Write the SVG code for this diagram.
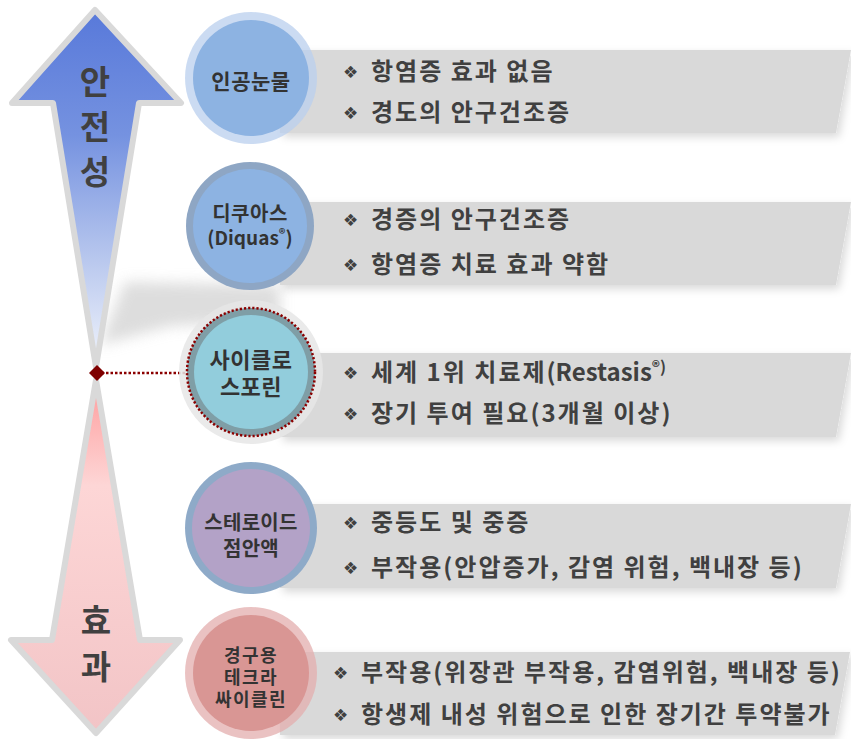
<svg xmlns="http://www.w3.org/2000/svg" width="851" height="739" viewBox="0 0 851 739">
  <defs>
    <linearGradient id="gUp" x1="0" y1="10" x2="0" y2="368" gradientUnits="userSpaceOnUse">
      <stop offset="0" stop-color="#5879da"/>
      <stop offset="0.35" stop-color="#7592e0"/>
      <stop offset="0.7" stop-color="#b9c8ee"/>
      <stop offset="1" stop-color="#f2f5fc"/>
    </linearGradient>
    <linearGradient id="gDown" x1="0" y1="380" x2="0" y2="733" gradientUnits="userSpaceOnUse">
      <stop offset="0" stop-color="#ff9c9c"/>
      <stop offset="0.3" stop-color="#fdd6d6"/>
      <stop offset="1" stop-color="#f2c4c6"/>
    </linearGradient>
    <filter id="barShadow" x="-5%" y="-20%" width="115%" height="150%">
      <feDropShadow dx="3" dy="4" stdDeviation="4" flood-color="#000" flood-opacity="0.15"/>
    </filter>
    <filter id="blur" x="-50%" y="-50%" width="200%" height="200%">
      <feGaussianBlur stdDeviation="7"/>
    </filter>
    <marker id="diamond" viewBox="0 0 16 16" refX="8" refY="8" markerWidth="16" markerHeight="16" markerUnits="userSpaceOnUse" orient="auto">
      <path d="M8 0 L16 8 L8 16 L0 8 Z" fill="#7f0000"/>
    </marker>
  </defs>
  <style>
    .arrow { stroke: #d9d9d9; stroke-width: 6; stroke-linejoin: round; }
    .big { font-family: "Noto Sans CJK KR", "Noto Sans", sans-serif; font-weight: bold; font-size: 33px; fill: #404040; text-anchor: middle; }
    .bar { fill: #d9d9d9; filter: url(#barShadow); }
    .bt { font-family: "Noto Sans CJK KR", "Noto Sans", sans-serif; font-weight: bold; font-size: 24px; letter-spacing: 2px; fill: #404040; }
    .dia { font-family: "DejaVu Sans", sans-serif; font-size: 17px; fill: #404040; }
    .ct { font-family: "Noto Sans CJK KR", "Noto Sans", sans-serif; font-weight: bold; fill: #333333; text-anchor: middle; }
  </style>

  <!-- soft swoosh shadow -->
  <polygon points="100,345 125,282 280,285 280,320 170,326" fill="#cfcfcf" opacity="0.7" filter="url(#blur)"/>

  <!-- arrows -->
  <g id="arrow-safety">
    <polygon class="arrow" fill="url(#gUp)" points="95,10 181,103 139,103 96,367 53,103 12,103"/>
    <text class="big" x="95" y="94">안</text>
    <text class="big" x="95" y="139">전</text>
    <text class="big" x="95" y="184">성</text>
  </g>
  <g id="arrow-effect">
    <polygon class="arrow" fill="url(#gDown)" points="96,380 140,640 180,640 96,733 11,640 52,640"/>
    <text class="big" x="96" y="633">효</text>
    <text class="big" x="96" y="679">과</text>
  </g>

  <!-- bars -->
  <g id="bars">
    <polygon class="bar" points="280,50 851,50 836,133 280,133"/>
    <polygon class="bar" points="280,202 851,202 836,285 280,285"/>
    <polygon class="bar" points="280,353 851,353 836,437 280,437"/>
    <polygon class="bar" points="280,504 851,504 836,588 280,588"/>
    <polygon class="bar" points="280,652 850,652 835,735 280,735"/>
  </g>

  <!-- connectors -->
  <g id="connectors">
    <line x1="97" y1="373" x2="186" y2="373" stroke="#8b0000" stroke-width="2.5" stroke-dasharray="2.5 2" marker-start="url(#diamond)"/>
  </g>

  <!-- node 1 -->
  <g id="node-artificial-tears">
    <circle cx="251" cy="78" r="66" fill="#b9cfee" opacity="0.75"/>
    <circle cx="251" cy="78" r="58" fill="#8db3e2"/>
    <text class="ct" x="251" y="89" font-size="21" letter-spacing="0.5">인공눈물</text>
    <text class="dia" x="343" y="78">❖</text>
    <text class="bt" x="371" y="80">항염증 효과 없음</text>
    <text class="dia" x="343" y="119">❖</text>
    <text class="bt" x="371" y="121">경도의 안구건조증</text>
  </g>

  <!-- node 2 -->
  <g id="node-diquas">
    <circle cx="250" cy="226" r="64" fill="#8ea6c4"/>
    <circle cx="250" cy="226" r="57" fill="#8db3e2"/>
    <text class="ct" x="250" y="221" font-size="20" letter-spacing="0.5">디쿠아스</text>
    <text class="ct" x="250" y="245" font-size="19">(Diquas<tspan font-size="13" dy="-6">®</tspan><tspan dy="6">)</tspan></text>
    <text class="dia" x="343" y="226">❖</text>
    <text class="bt" x="371" y="228">경증의 안구건조증</text>
    <text class="dia" x="343" y="271">❖</text>
    <text class="bt" x="371" y="273">항염증 치료 효과 약함</text>
  </g>

  <!-- node 3 -->
  <g id="node-cyclosporine">
    <circle cx="251" cy="372" r="72" fill="#e6e6e6" opacity="0.85"/>
    <circle cx="251" cy="372" r="64" fill="#7f9ea6"/>
    <circle cx="251" cy="372" r="57" fill="#92cddc"/>
    <circle cx="251" cy="372" r="64" fill="none" stroke="#8b0000" stroke-width="2.5" stroke-dasharray="2.2 2"/>
    <text class="ct" x="251" y="368" font-size="22" letter-spacing="0.5">사이클로</text>
    <text class="ct" x="251" y="395" font-size="22" letter-spacing="0.5">스포린</text>
    <text class="dia" x="343" y="379">❖</text>
    <text class="bt" x="371" y="381">세계 1위 치료제<tspan letter-spacing="0">(Restasis</tspan><tspan font-size="16" letter-spacing="0" dy="-8">®)</tspan></text>
    <text class="dia" x="343" y="420">❖</text>
    <text class="bt" x="371" y="422">장기 투여 필요(3개월 이상)</text>
  </g>

  <!-- node 4 -->
  <g id="node-steroid">
    <circle cx="251" cy="528" r="66" fill="#8eaac8"/>
    <circle cx="251" cy="528" r="59" fill="#b3a2c7"/>
    <text class="ct" x="251" y="530" font-size="20" letter-spacing="0.3">스테로이드</text>
    <text class="ct" x="251" y="556" font-size="20" letter-spacing="0.3">점안액</text>
    <text class="dia" x="343" y="529">❖</text>
    <text class="bt" x="371" y="531">중등도 및 중증</text>
    <text class="dia" x="343" y="574">❖</text>
    <text class="bt" x="371" y="576" letter-spacing="1.6">부작용(안압증가, 감염 위험, 백내장 등)</text>
  </g>

  <!-- node 5 -->
  <g id="node-tetracycline">
    <circle cx="251" cy="673" r="66" fill="#e3aeae" opacity="0.75"/>
    <circle cx="251" cy="673" r="58" fill="#d99694"/>
    <text class="ct" x="251" y="662" font-size="18" letter-spacing="1.5">경구용</text>
    <text class="ct" x="251" y="684" font-size="18" letter-spacing="1.5">테크라</text>
    <text class="ct" x="251" y="706" font-size="18" letter-spacing="1.5">싸이클린</text>
    <text class="dia" x="333" y="679">❖</text>
    <text class="bt" x="361" y="681">부작용(위장관 부작용, 감염위험, 백내장 등)</text>
    <text class="dia" x="333" y="721">❖</text>
    <text class="bt" x="361" y="723">항생제 내성 위험으로 인한 장기간 투약불가</text>
  </g>
</svg>
